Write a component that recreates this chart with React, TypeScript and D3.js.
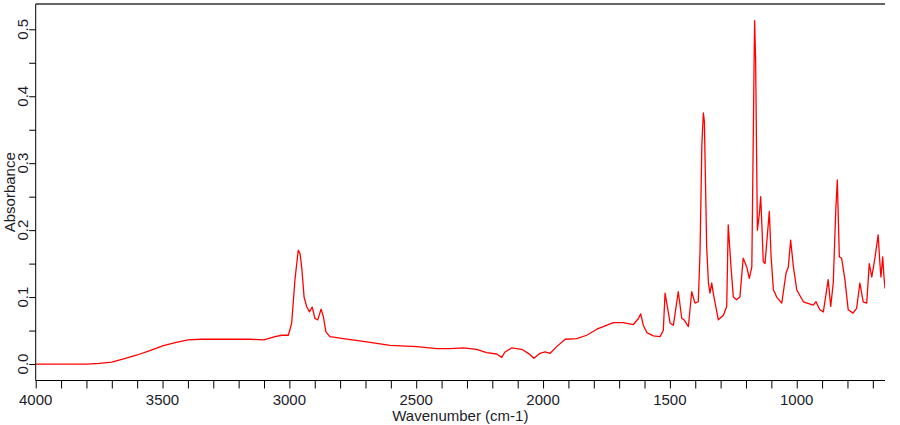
import { useEffect, useRef } from "react";
import * as d3 from "d3";

// spectrum (cm-1 vs absorbance)
const wavenumbers = [
  4000, 3800, 3750, 3700, 3650, 3600, 3550, 3500, 3450, 3400, 3350, 3300, 3250, 3200, 3155, 3100,
  3057, 3030, 3004, 2991, 2978, 2965, 2958, 2951, 2942, 2932, 2921, 2910, 2899, 2888, 2875, 2866,
  2856, 2840, 2787, 2695, 2603, 2498, 2419, 2367, 2314, 2262, 2222, 2183, 2163, 2150, 2124, 2084,
  2058, 2036, 2012, 1992, 1972, 1946, 1913, 1867, 1828, 1788, 1723, 1684, 1644, 1624, 1615, 1605,
  1591, 1565, 1539, 1526, 1519, 1499, 1486, 1467, 1453, 1444, 1427, 1414, 1401, 1388, 1381, 1374,
  1368, 1364, 1355, 1348, 1342, 1335, 1329, 1309, 1289, 1276, 1270, 1259, 1250, 1237, 1224, 1211,
  1197, 1187, 1177, 1173, 1168, 1166, 1162, 1158, 1155, 1147, 1142, 1136, 1132, 1125, 1112, 1108,
  1101, 1092, 1079, 1059, 1042, 1033, 1024, 1013, 1000, 974, 935, 924, 909, 895, 876, 866,
  856, 846, 840, 832, 823, 810, 797, 778, 764, 751, 738, 724, 714, 704, 691, 679,
  672, 668, 661, 656, 652,
];
const absorbance = [
  0.0, 0.0, 0.001, 0.003, 0.008, 0.0135, 0.02, 0.027, 0.032, 0.036, 0.037, 0.037, 0.037, 0.037, 0.037, 0.036,
  0.041, 0.043, 0.043, 0.061, 0.126, 0.17, 0.165, 0.143, 0.1, 0.086, 0.078, 0.085, 0.068, 0.066, 0.082, 0.071,
  0.048, 0.041, 0.038, 0.033, 0.028, 0.026, 0.023, 0.023, 0.024, 0.022, 0.017, 0.015, 0.01, 0.018, 0.024, 0.022,
  0.016, 0.0085, 0.016, 0.018, 0.016, 0.026, 0.037, 0.038, 0.043, 0.052, 0.062, 0.062, 0.059, 0.068, 0.075, 0.058,
  0.047, 0.042, 0.041, 0.05, 0.106, 0.061, 0.058, 0.108, 0.068, 0.066, 0.056, 0.108, 0.091, 0.093, 0.17, 0.327,
  0.375, 0.362, 0.175, 0.121, 0.106, 0.121, 0.106, 0.066, 0.073, 0.086, 0.208, 0.145, 0.1, 0.096, 0.1, 0.158,
  0.145, 0.128, 0.145, 0.28, 0.452, 0.513, 0.454, 0.305, 0.2, 0.225, 0.25, 0.195, 0.153, 0.15, 0.21, 0.228,
  0.16, 0.111, 0.1, 0.091, 0.136, 0.145, 0.185, 0.145, 0.111, 0.093, 0.088, 0.093, 0.081, 0.078, 0.126, 0.086,
  0.121, 0.23, 0.275, 0.16, 0.158, 0.126, 0.081, 0.076, 0.083, 0.121, 0.093, 0.091, 0.15, 0.13, 0.16, 0.193,
  0.15, 0.13, 0.16, 0.13, 0.113,
];
const xTickLabels = [4000, 3500, 3000, 2500, 2000, 1500, 1000];
const yTickLabels = [0.0, 0.1, 0.2, 0.3, 0.4, 0.5];

export default function App() {
  const svgRef = useRef<SVGSVGElement>(null);

  useEffect(() => {
    document.body.style.margin = "0";
    if (!svgRef.current) return;

    const width = 900;
    const height = 425;
    const left = 35.7;
    const right = 885;
    const top = 4;
    const bottom = 380.5;
    const font = "'Liberation Sans', Arial, sans-serif";
    const textColor = "#1c1c2a";

    const svg = d3.select(svgRef.current);
    svg.selectAll("*").remove();
    svg.attr("width", width).attr("height", height);

    const x = d3.scaleLinear().domain([4000, 652]).range([left, right]);
    const y = d3.scaleLinear().domain([-0.0246, 0.5378]).range([bottom, top]);

    svg
      .append("defs")
      .append("clipPath")
      .attr("id", "plot-clip")
      .append("rect")
      .attr("x", left)
      .attr("y", top)
      .attr("width", right - left)
      .attr("height", bottom - top);

    const points = wavenumbers.map((w, i) => [w, absorbance[i]] as [number, number]);
    const line = d3
      .line<[number, number]>()
      .x((d) => x(d[0]))
      .y((d) => y(d[1]));

    svg
      .append("path")
      .datum(points)
      .attr("clip-path", "url(#plot-clip)")
      .attr("d", line)
      .attr("fill", "none")
      .attr("stroke", "#ff0000")
      .attr("stroke-width", 1.3)
      .attr("stroke-linejoin", "round");

    // top frame line
    svg
      .append("line")
      .attr("x1", left)
      .attr("x2", right)
      .attr("y1", top)
      .attr("y2", top)
      .attr("stroke", "#666")
      .attr("stroke-width", 2);

    // x axis
    const xAxis = d3
      .axisBottom(x)
      .tickValues(d3.range(4000, 651, -100))
      .tickSize(8)
      .tickFormat(() => "");
    const gx = svg.append("g").attr("transform", `translate(0,${bottom})`).call(xAxis);
    gx.select(".domain").attr("stroke", "#000").attr("d", `M${left},0H${right}`);
    gx.selectAll(".tick line").attr("stroke", "#000");

    svg
      .append("g")
      .selectAll("text")
      .data(xTickLabels)
      .enter()
      .append("text")
      .attr("x", (d) => x(d))
      .attr("y", 404.5)
      .attr("text-anchor", "middle")
      .style("font-family", font)
      .style("font-size", "15px")
      .attr("fill", textColor)
      .text((d) => String(d));

    svg
      .append("text")
      .attr("x", (left + right) / 2)
      .attr("y", 420.5)
      .attr("text-anchor", "middle")
      .style("font-family", font)
      .style("font-size", "15px")
      .attr("fill", textColor)
      .text("Wavenumber (cm-1)");

    // y axis
    const yAxis = d3
      .axisLeft(y)
      .tickValues(d3.range(0, 0.51, 0.05))
      .tickSize(6.5)
      .tickFormat(() => "");
    const gy = svg.append("g").attr("transform", `translate(${left},0)`).call(yAxis);
    gy.select(".domain").attr("stroke", "#000").attr("d", `M0,${top}V${bottom}`);
    gy.selectAll(".tick line").attr("stroke", "#000");

    svg
      .append("g")
      .selectAll("text")
      .data(yTickLabels)
      .enter()
      .append("text")
      .attr("transform", (d) => `translate(28.3,${y(d)}) rotate(-90)`)
      .attr("text-anchor", "middle")
      .style("font-family", font)
      .style("font-size", "15px")
      .attr("fill", textColor)
      .text((d) => d.toFixed(1));

    svg
      .append("text")
      .attr("transform", `translate(14.5,${(top + bottom) / 2}) rotate(-90)`)
      .attr("text-anchor", "middle")
      .style("font-family", font)
      .style("font-size", "15px")
      .attr("fill", textColor)
      .text("Absorbance");
  }, []);

  return (
    <div style={{ width: 900, height: 425 }}>
      <svg ref={svgRef} style={{ display: "block" }} />
    </div>
  );
}
